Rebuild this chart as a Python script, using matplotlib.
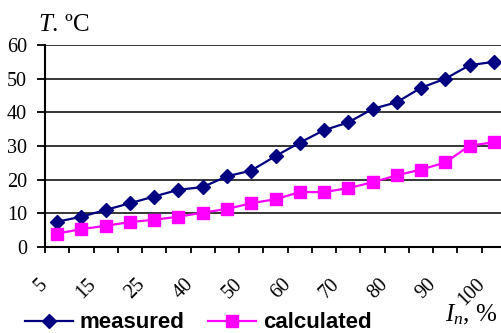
import numpy as np
import matplotlib
matplotlib.use("Agg")
import matplotlib.pyplot as plt
from matplotlib.transforms import ScaledTranslation

# Load current, % of nominal (every other one gets a tick label)
load = [5, 10, 15, 20, 25, 30, 40, 45, 50, 55, 60, 65, 70, 75, 80, 85, 90, 95, 100]
measured = [7.5, 9, 11, 13, 15, 17, 17.8, 21, 22.7, 27, 31, 34.7, 37, 41, 43, 47.3, 50, 54, 55]
calculated = [4, 5.3, 6.3, 7.4, 8.1, 9, 10.2, 11.3, 13, 14.2, 16.3, 16.3, 17.5, 19.2, 21.3, 23, 25.1, 30.1, 31.1]
y_ticks = [0, 10, 20, 30, 40, 50, 60]

plt.rcParams['mathtext.fontset'] = 'custom'
plt.rcParams['mathtext.rm'] = 'Liberation Serif'
plt.rcParams['mathtext.it'] = 'Liberation Serif:italic'

fig = plt.figure(figsize=(5.01, 3.33), dpi=100)
ax = fig.add_axes([45 / 501, 86 / 333, 461 / 501, 202 / 333])

x = np.arange(len(load))
ax.plot(x, measured, color='#000080', lw=1.6, marker='D', ms=7.5,
        label='measured', zorder=3)
ax.plot(x, calculated, color='#FF00FF', lw=1.6, marker='s', ms=8.5,
        label='calculated', zorder=3)

ax.set_xlim(-0.5, len(load) - 0.5)
ax.set_ylim(0, 60)
ax.set_yticks(y_ticks)
ax.yaxis.grid(True, color='black', lw=1.1)
ax.set_axisbelow(True)

for side in ('top', 'right'):
    ax.spines[side].set_visible(False)
for side in ('left', 'bottom'):
    ax.spines[side].set_linewidth(1.5)

serif = {'family': 'Liberation Serif', 'size': 14.5}
ax.set_yticklabels([str(v) for v in y_ticks], fontdict=serif)
ax.tick_params(axis='y', length=6, width=1.3, pad=7)

# labels on every other category, tick marks on the category borders
ax.set_xticks(x[::2])
ax.set_xticklabels([str(load[i]) for i in x[::2]], fontdict=serif)
ax.set_xticks(np.arange(len(load) + 1) - 0.5, minor=True)
ax.tick_params(axis='x', which='major', length=0, pad=25)
ax.tick_params(axis='x', which='minor', length=4, width=1.3, direction='out')
shift = ScaledTranslation(-12 / 100, 0, fig.dpi_scale_trans)
for lbl in ax.get_xticklabels():
    lbl.set_rotation(45)
    lbl.set_ha('right')
    lbl.set_va('center')
    lbl.set_rotation_mode('anchor')
    lbl.set_transform(lbl.get_transform() + shift)

fig.text(38 / 501, 1 - 31 / 333, r'$T$. ºC', fontsize=18,
         family='Liberation Serif', ha='left', va='baseline')
fig.text(445 / 501, 1 - 321 / 333, r'$I_n$, %', fontsize=18,
         family='Liberation Serif', ha='left', va='baseline')

fig.legend(loc='center left', bbox_to_anchor=(25 / 501, 1 - 323 / 333),
           ncol=2, frameon=False, borderpad=0, borderaxespad=0,
           handlelength=2.15, handletextpad=0.32, columnspacing=1.05,
           prop={'family': 'Liberation Sans', 'weight': 'bold', 'size': 16})

fig.savefig('out.png', dpi=100)
